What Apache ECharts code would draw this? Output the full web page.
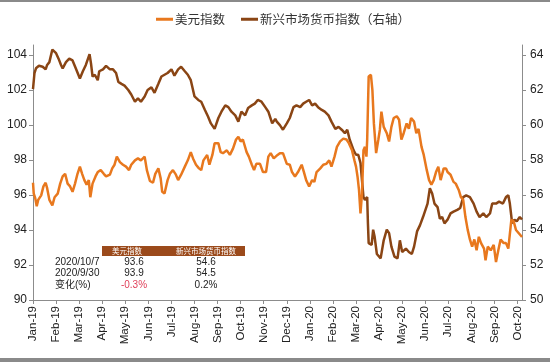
<!DOCTYPE html>
<html><head><meta charset="utf-8">
<script src="https://cdn.jsdelivr.net/npm/echarts@6/dist/echarts.min.js"></script>
<style>html,body{margin:0;padding:0;background:#fff}#c{width:550px;height:363px}</style>
</head><body><div id="c"></div>
<script>
const monthLabels = ['Jan-19','Feb-19','Mar-19','Apr-19','May-19','Jun-19','Jul-19','Aug-19','Sep-19','Oct-19','Nov-19','Dec-19',
  'Jan-20','Feb-20','Mar-20','Apr-20','May-20','Jun-20','Jul-20','Aug-20','Sep-20','Oct-20'];
const leftTicks = [90,92,94,96,98,100,102,104];
const rightTicks = [50,52,54,56,58,60,62,64];
const seriesNames = ['美元指数','新兴市场货币指数（右轴）'];

const usdDates = ['2019-01-01','2019-01-02','2019-01-04','2019-01-06','2019-01-08','2019-01-12','2019-01-15','2019-01-18','2019-01-20','2019-01-23','2019-01-27','2019-01-30',
'2019-02-03','2019-02-06','2019-02-09','2019-02-12','2019-02-15','2019-02-18','2019-02-21','2019-02-24','2019-02-27',
'2019-03-02','2019-03-05','2019-03-08','2019-03-11','2019-03-14','2019-03-16','2019-03-19','2019-03-23','2019-03-26','2019-03-30',
'2019-04-03','2019-04-06','2019-04-11','2019-04-14','2019-04-17','2019-04-20','2019-04-24','2019-04-28',
'2019-05-02','2019-05-06','2019-05-09','2019-05-14','2019-05-18','2019-05-22','2019-05-27','2019-05-30',
'2019-06-03','2019-06-07','2019-06-10','2019-06-14','2019-06-17','2019-06-19','2019-06-22','2019-06-26','2019-06-29',
'2019-07-03','2019-07-07','2019-07-10','2019-07-14','2019-07-19','2019-07-23','2019-07-27','2019-07-30',
'2019-08-03','2019-08-07','2019-08-10','2019-08-13','2019-08-18','2019-08-21','2019-08-25','2019-08-28',
'2019-09-02','2019-09-05','2019-09-08','2019-09-13','2019-09-17','2019-09-21','2019-09-25','2019-09-28',
'2019-10-01','2019-10-04','2019-10-09','2019-10-12','2019-10-16','2019-10-19','2019-10-22','2019-10-27','2019-10-31',
'2019-11-04','2019-11-07','2019-11-10','2019-11-14','2019-11-19','2019-11-22','2019-11-26',
'2019-12-01','2019-12-05','2019-12-08','2019-12-12','2019-12-16','2019-12-21','2019-12-24','2019-12-27','2019-12-31',
'2020-01-04','2020-01-07','2020-01-10','2020-01-15','2020-01-19','2020-01-23','2020-01-27','2020-01-30',
'2020-02-03','2020-02-06','2020-02-10','2020-02-14','2020-02-18','2020-02-21','2020-02-25','2020-02-28',
'2020-03-01','2020-03-03','2020-03-05','2020-03-07','2020-03-09','2020-03-11','2020-03-13','2020-03-15','2020-03-16','2020-03-18','2020-03-21','2020-03-23','2020-03-25','2020-03-28','2020-03-31',
'2020-04-02','2020-04-04','2020-04-07','2020-04-11','2020-04-14','2020-04-17','2020-04-20','2020-04-24','2020-04-27','2020-04-30',
'2020-05-03','2020-05-07','2020-05-10','2020-05-13','2020-05-17','2020-05-20','2020-05-23','2020-05-27','2020-05-30',
'2020-06-03','2020-06-06','2020-06-09','2020-06-12','2020-06-15','2020-06-18','2020-06-21','2020-06-25','2020-06-28','2020-06-30',
'2020-07-04','2020-07-08','2020-07-11','2020-07-15','2020-07-18','2020-07-21','2020-07-24','2020-07-27','2020-07-30',
'2020-08-02','2020-08-05','2020-08-08','2020-08-11','2020-08-14','2020-08-18','2020-08-20','2020-08-23','2020-08-27','2020-08-31',
'2020-09-03','2020-09-06','2020-09-09','2020-09-13','2020-09-16','2020-09-19','2020-09-21','2020-09-23','2020-09-26','2020-09-29','2020-09-30',
'2020-10-05','2020-10-07'];
const usdValues = [96.7,96.08,95.82,95.36,95.72,95.98,96.49,96.7,96.39,95.72,95.41,95.87,
96.08,96.65,97.06,97.21,96.65,96.49,96.18,96.65,97.21,
97.62,97.21,96.85,96.59,96.85,95.87,96.65,97.06,97.31,97.42,
97.21,97.06,97.16,97.52,97.73,98.19,97.88,97.73,
97.62,97.42,97.73,97.98,98.09,97.98,98.19,97.42,
96.8,96.7,97.21,97.52,96.95,96.18,96.08,96.85,97.21,
97.42,97.16,96.85,97.16,97.62,97.98,98.45,98.09,
97.73,97.52,97.42,97.98,98.29,97.73,98.29,98.96,
98.96,98.45,98.39,98.55,98.29,98.65,99.17,99.32,
99.06,99.17,98.45,98.19,97.73,97.42,97.78,97.78,97.31,
97.31,98.19,98.39,98.09,98.29,98.39,98.39,
97.78,97.73,97.31,97.06,97.31,97.73,97.31,96.85,96.49,
96.85,96.75,97.31,97.52,97.73,97.78,97.98,97.62,
98.19,98.75,99.06,99.22,99.17,98.96,98.55,97.98,
97.62,97.06,96.29,94.95,96.08,98.55,98.75,98.19,99.17,102.77,102.87,101.99,100.09,98.39,99.17,
99.73,100.76,99.89,99.53,99.06,99.89,100.4,100.5,100.3,99.17,
99.53,100.09,99.78,100.4,100.19,99.53,99.78,98.75,98.29,
97.42,96.85,96.59,96.85,97.31,97.62,96.85,97.52,97.52,97.31,
97.16,96.75,96.65,96.29,95.87,95.72,94.74,94.02,93.46,
93.05,93.46,92.84,93.61,93.25,92.94,92.27,93.05,92.84,93.15,
92.17,92.84,93.46,93.25,93.25,92.94,93.05,94.59,94.49,94.0,93.9,
93.7,93.6];

const emDates = ['2019-01-01','2019-01-03','2019-01-05','2019-01-09','2019-01-14','2019-01-18','2019-01-20','2019-01-23','2019-01-27',
'2019-02-01','2019-02-04','2019-02-07','2019-02-09','2019-02-13','2019-02-17','2019-02-21','2019-02-25',
'2019-03-02','2019-03-06','2019-03-10','2019-03-15','2019-03-17','2019-03-19','2019-03-22','2019-03-26','2019-03-28',
'2019-04-02','2019-04-06','2019-04-11','2019-04-15','2019-04-19','2019-04-22','2019-04-26','2019-04-30',
'2019-05-05','2019-05-09','2019-05-14','2019-05-18','2019-05-22','2019-05-27','2019-05-31',
'2019-06-05','2019-06-09','2019-06-14','2019-06-18','2019-06-22','2019-06-26',
'2019-07-01','2019-07-05','2019-07-10','2019-07-14','2019-07-19','2019-07-23','2019-07-27',
'2019-08-01','2019-08-06','2019-08-10','2019-08-15','2019-08-19','2019-08-23','2019-08-28',
'2019-09-02','2019-09-06','2019-09-11','2019-09-15','2019-09-19','2019-09-24','2019-09-28',
'2019-10-02','2019-10-07','2019-10-11','2019-10-16','2019-10-20','2019-10-24','2019-10-29',
'2019-11-03','2019-11-07','2019-11-12','2019-11-16','2019-11-18','2019-11-22','2019-11-26',
'2019-12-01','2019-12-05','2019-12-10','2019-12-14','2019-12-19','2019-12-23','2019-12-27','2019-12-31',
'2020-01-04','2020-01-08','2020-01-12','2020-01-17','2020-01-21','2020-01-26','2020-01-30',
'2020-02-04','2020-02-08','2020-02-12','2020-02-16','2020-02-19','2020-02-22','2020-02-27',
'2020-03-01','2020-03-04','2020-03-07','2020-03-09','2020-03-11','2020-03-13','2020-03-16','2020-03-17','2020-03-18','2020-03-22','2020-03-24','2020-03-26','2020-03-29',
'2020-04-03','2020-04-07','2020-04-11','2020-04-14','2020-04-17','2020-04-21','2020-04-25','2020-04-28',
'2020-05-01','2020-05-06','2020-05-10','2020-05-14','2020-05-17','2020-05-21','2020-05-25','2020-05-29',
'2020-06-04','2020-06-07','2020-06-10','2020-06-13','2020-06-17','2020-06-20','2020-06-23','2020-06-26','2020-06-30',
'2020-07-04','2020-07-08','2020-07-13','2020-07-17','2020-07-21','2020-07-25','2020-07-30',
'2020-08-04','2020-08-08','2020-08-12','2020-08-17','2020-08-21','2020-08-26','2020-08-29',
'2020-09-03','2020-09-07','2020-09-12','2020-09-16','2020-09-19','2020-09-21','2020-09-24','2020-09-27','2020-09-30',
'2020-10-04','2020-10-07'];
const emValues = [62.05,62.97,63.24,63.38,63.33,63.18,63.43,63.59,64.31,
64.1,63.79,63.43,63.23,63.59,63.79,63.69,63.23,
62.66,63.07,63.43,64.05,63.49,62.77,62.87,62.56,63.07,
63.18,63.38,63.18,63.18,62.97,62.46,62.35,62.25,
62.0,61.74,61.33,61.53,61.33,61.63,62.0,
62.15,61.84,62.35,62.77,62.87,62.97,
63.18,62.82,63.18,63.33,63.07,62.87,62.56,
61.63,61.43,61.33,60.86,60.5,60.09,59.78,
60.4,60.76,61.12,61.02,60.76,60.55,60.19,
60.76,60.55,60.97,61.12,61.22,61.43,61.33,
61.02,60.76,60.09,60.35,60.19,59.99,59.73,
60.09,60.4,61.02,61.12,61.02,61.22,61.33,61.43,
61.12,61.22,61.02,60.86,60.76,60.55,60.19,
59.78,59.89,59.73,59.53,59.73,59.17,58.55,
58.3,58.3,57.83,56.85,55.88,55.72,55.88,54.38,53.25,53.15,54.02,53.61,52.63,
52.38,53.41,54.02,53.82,53.05,52.48,52.38,53.41,
52.74,52.94,52.74,52.63,53.05,53.92,54.28,54.74,
55.51,56.39,56.08,55.51,55.31,54.64,54.74,54.38,54.59,
54.95,55.05,55.15,55.26,55.88,55.98,55.88,
55.51,55.05,54.74,54.95,54.74,54.95,55.51,
55.51,55.62,55.51,55.88,55.98,55.51,54.38,54.59,54.5,
54.74,54.6];

const tableHeader = ['美元指数','新兴市场货币指数'];
const tableRowLabels = ['2020/10/7','2020/9/30','变化(%)'];
const tableUsd = ['93.6','93.9','-0.3%'];
const tableEm = ['54.6','54.5','0.2%'];

function monthIndex(s){
  const [y,m,d] = s.split('-').map(Number);
  const dim = new Date(y, m, 0).getDate();
  return (y-2019)*12 + (m-1) + (d-1)/dim;
}
const usdData = usdDates.map((d,i)=>[monthIndex(d), usdValues[i]]);
const emData = emDates.map((d,i)=>[monthIndex(d), emValues[i]]);
const xMax = monthIndex('2020-10-07');
const monthTicks = monthLabels.map((_,i)=>i);

const FONT = '"Liberation Sans", Arial, "Noto Sans CJK SC", sans-serif';
const CJK = '"Noto Sans CJK SC", sans-serif';
const ORANGE = '#E8781E';
const BROWN = '#8A4514';
const AXIS = '#8c8c8c';

const chart = echarts.init(document.getElementById('c'), null, {renderer:'canvas'});

const tableGraphics = [];
tableGraphics.push({type:'rect', left:102, top:246, shape:{width:143, height:10}, style:{fill:'#9B4A1B'}, silent:true});
tableGraphics.push({type:'text', x:127, y:251, style:{text:tableHeader[0], fill:'#fff', font:'7.5px '+CJK, textAlign:'center', textVerticalAlign:'middle'}});
tableGraphics.push({type:'text', x:206, y:251, style:{text:tableHeader[1], fill:'#fff', font:'7.5px '+CJK, textAlign:'center', textVerticalAlign:'middle'}});
const rowY = [262, 273.5, 285];
tableRowLabels.forEach((t,i)=>{
  tableGraphics.push({type:'text', x:55, y:rowY[i], style:{text:t, fill:'#222', font:'10px '+FONT, textAlign:'left', textVerticalAlign:'middle'}});
  tableGraphics.push({type:'text', x:134, y:rowY[i], style:{text:tableUsd[i], fill: tableUsd[i].charAt(0)==='-' ? '#E0405A' : '#222', font:'10px '+FONT, textAlign:'center', textVerticalAlign:'middle'}});
  tableGraphics.push({type:'text', x:206, y:rowY[i], style:{text:tableEm[i], fill:'#222', font:'10px '+FONT, textAlign:'center', textVerticalAlign:'middle'}});
});

const option = {
  backgroundColor:'#fff',
  animation:false,
  textStyle:{fontFamily:FONT},
  grid:{left:33, right:28, top:45, bottom:63, containLabel:false},
  legend:{
    data:seriesNames, left:151, top:8, itemWidth:17, itemHeight:3, itemGap:16, icon:'rect',
    textStyle:{fontFamily:CJK, fontSize:12.5, color:'#333', padding:[0,0,0,-3]}
  },
  xAxis:{
    type:'value', min:0, max:xMax, interval:1,
    axisLine:{show:true, lineStyle:{color:AXIS, width:1}},
    axisTick:{show:true, length:4, lineStyle:{color:AXIS}, customValues:monthTicks},
    axisLabel:{rotate:90, fontSize:11.5, color:'#222', margin:6, customValues:monthTicks,
      formatter:v=>{const i=Math.round(v); return Math.abs(v-i)<1e-6 && monthLabels[i] ? monthLabels[i] : '';}},
    splitLine:{show:false}
  },
  yAxis:[
    {type:'value', min:90, max:104.57, position:'left',
      axisLine:{show:true, lineStyle:{color:AXIS}},
      axisTick:{show:true, length:4, lineStyle:{color:AXIS}, customValues:leftTicks},
      axisLabel:{fontSize:12, color:'#222', margin:6, customValues:leftTicks,
        formatter:v=>leftTicks.includes(v)?String(v):''},
      splitLine:{show:false}},
    {type:'value', min:50, max:64.57, position:'right',
      axisLine:{show:true, lineStyle:{color:AXIS}},
      axisTick:{show:true, length:4, lineStyle:{color:AXIS}, customValues:rightTicks},
      axisLabel:{fontSize:12, color:'#222', margin:8, customValues:rightTicks,
        formatter:v=>rightTicks.includes(v)?String(v):''},
      splitLine:{show:false}}
  ],
  series:[
    {name:seriesNames[0], type:'line', yAxisIndex:0, data:usdData, showSymbol:false, symbol:'none',
      lineStyle:{color:ORANGE, width:2.5}, itemStyle:{color:ORANGE}, z:3},
    {name:seriesNames[1], type:'line', yAxisIndex:1, data:emData, showSymbol:false, symbol:'none',
      lineStyle:{color:BROWN, width:2.5}, itemStyle:{color:BROWN}, z:2}
  ],
  graphic:[
    {type:'rect', left:0, top:0, shape:{width:550, height:2}, style:{fill:'#8a8a8a'}, silent:true},
    {type:'rect', left:0, top:358, shape:{width:550, height:4}, style:{fill:'#8a8a8a'}, silent:true}
  ].concat(tableGraphics)
};
chart.setOption(option);
</script>
</body></html>
